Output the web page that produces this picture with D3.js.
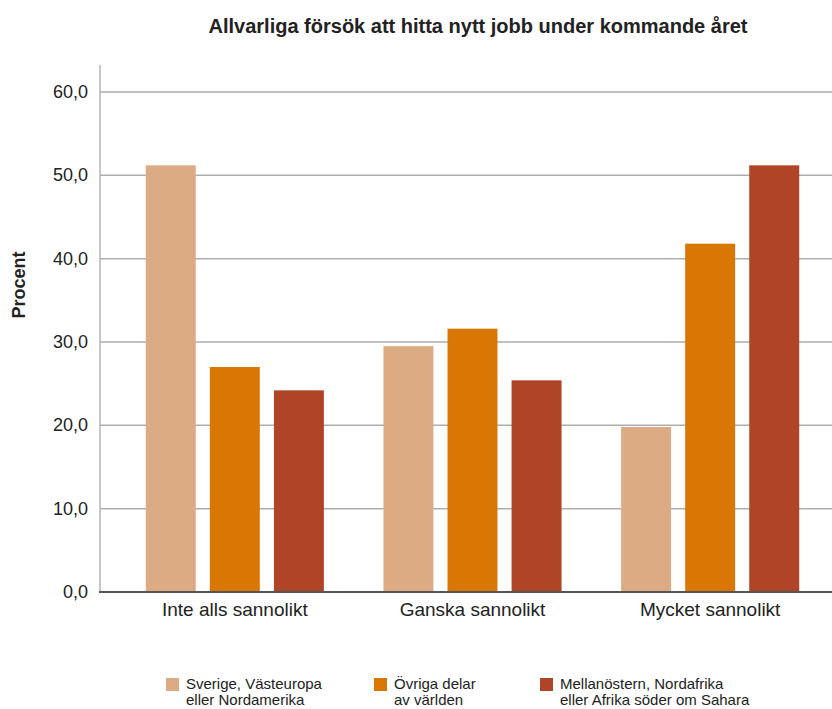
<!DOCTYPE html>
<html>
<head>
<meta charset="utf-8">
<script src="https://cdn.jsdelivr.net/npm/d3@7/dist/d3.min.js"></script>
<style>
  body { margin: 0; background: #fff; }
  text { font-family: "Liberation Sans", Arial, sans-serif; fill: #222; }
</style>
</head>
<body>
<svg id="chart" width="832" height="709"></svg>
<script>
const categories = ["Inte alls sannolikt", "Ganska sannolikt", "Mycket sannolikt"];
const seriesNames = [
  ["Sverige, Västeuropa", "eller Nordamerika"],
  ["Övriga delar", "av världen"],
  ["Mellanöstern, Nordafrika", "eller Afrika söder om Sahara"]
];
const sverige = [51.2, 29.5, 19.8];
const ovriga = [27.0, 31.6, 41.8];
const mellanostern = [24.2, 25.4, 51.2];
const yTicks = [0, 10, 20, 30, 40, 50, 60];
const colors = ["#dcab84", "#d97704", "#af4526"];

const series = [sverige, ovriga, mellanostern];
const svg = d3.select("#chart");

const y = d3.scaleLinear().domain([0, 60]).range([592, 92]);
const x0 = d3.scaleBand().domain(categories).range([116, 829]);
const x1 = d3.scaleBand().domain(d3.range(series.length))
  .range([0, x0.bandwidth()]).paddingInner(0.22).paddingOuter(0.465);

// gridlines
svg.append("g").selectAll("line").data(yTicks.filter(d => d > 0)).join("line")
  .attr("x1", 100).attr("x2", 832)
  .attr("y1", d => y(d)).attr("y2", d => y(d))
  .attr("stroke", "#adadad").attr("stroke-width", 1.5);

// vertical axis line
svg.append("line")
  .attr("x1", 100).attr("x2", 100).attr("y1", 65).attr("y2", 592)
  .attr("stroke", "#b5b5b5").attr("stroke-width", 1.5);

// y tick labels
svg.append("g").selectAll("text").data(yTicks).join("text")
  .attr("x", 88).attr("y", d => y(d) + 6)
  .attr("text-anchor", "end")
  .style("font-size", "18px")
  .text(d => d3.format(".1f")(d).replace(".", ","));

// bars
const groups = svg.append("g").selectAll("g").data(categories).join("g")
  .attr("transform", d => `translate(${x0(d)},0)`);
groups.selectAll("rect")
  .data((c, i) => series.map((s, k) => ({ k, v: s[i] })))
  .join("rect")
  .attr("x", d => x1(d.k))
  .attr("width", x1.bandwidth())
  .attr("y", d => y(d.v))
  .attr("height", d => y(0) - y(d.v))
  .attr("fill", d => colors[d.k]);

// baseline
svg.append("line")
  .attr("x1", 99).attr("x2", 832).attr("y1", 592).attr("y2", 592)
  .attr("stroke", "#555").attr("stroke-width", 2);

// category labels
svg.append("g").selectAll("text").data(categories).join("text")
  .attr("x", d => x0(d) + x0.bandwidth() / 2)
  .attr("y", 616)
  .attr("text-anchor", "middle")
  .style("font-size", "19px")
  .text(d => d);

// title
svg.append("text")
  .attr("x", 478).attr("y", 33)
  .attr("text-anchor", "middle")
  .style("font-size", "20px").style("font-weight", "bold")
  .text("Allvarliga försök att hitta nytt jobb under kommande året");

// y axis label
svg.append("text")
  .attr("transform", "translate(25,285) rotate(-90)")
  .attr("text-anchor", "middle")
  .style("font-size", "18px").style("font-weight", "bold")
  .text("Procent");

// legend
const legendX = [166, 374, 540];
const legend = svg.append("g").selectAll("g").data(seriesNames).join("g")
  .attr("transform", (d, i) => `translate(${legendX[i]},678)`);
legend.append("rect")
  .attr("width", 13).attr("height", 13)
  .attr("fill", (d, i) => colors[i]);
legend.append("text")
  .attr("y", 11)
  .style("font-size", "15px")
  .selectAll("tspan").data(d => d).join("tspan")
  .attr("x", 20)
  .attr("dy", (d, i) => i === 0 ? 0 : 16)
  .text(d => d);
</script>
</body>
</html>
